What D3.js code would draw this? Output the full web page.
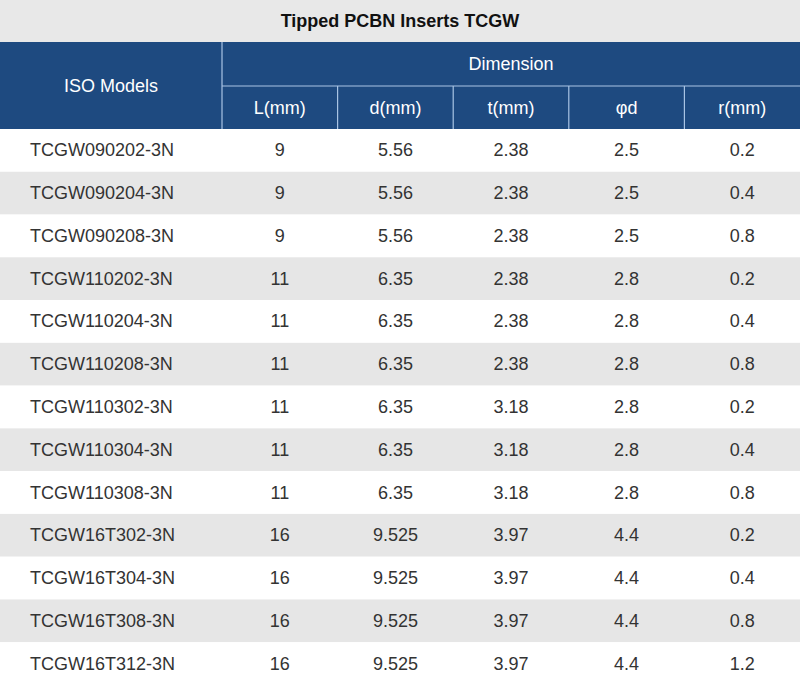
<!DOCTYPE html><html><head><meta charset="utf-8"><script src="https://cdn.jsdelivr.net/npm/d3@7"></script>
<style>body{margin:0;background:#fff}</style></head><body><svg id="c" width="800" height="685"></svg>
<script>
const title="Tipped PCBN Inserts TCGW";
const groupHeader="Dimension";
const firstHeader="ISO Models";
const columns=["L(mm)","d(mm)","t(mm)","φd","r(mm)"];
const models=["TCGW090202-3N","TCGW090204-3N","TCGW090208-3N","TCGW110202-3N","TCGW110204-3N","TCGW110208-3N","TCGW110302-3N","TCGW110304-3N","TCGW110308-3N","TCGW16T302-3N","TCGW16T304-3N","TCGW16T308-3N","TCGW16T312-3N"];
const L=["9","9","9","11","11","11","11","11","11","16","16","16","16"];
const dv=["5.56","5.56","5.56","6.35","6.35","6.35","6.35","6.35","6.35","9.525","9.525","9.525","9.525"];
const t=["2.38","2.38","2.38","2.38","2.38","2.38","3.18","3.18","3.18","3.97","3.97","3.97","3.97"];
const phi=["2.5","2.5","2.5","2.8","2.8","2.8","2.8","2.8","2.8","4.4","4.4","4.4","4.4"];
const r=["0.2","0.4","0.8","0.2","0.4","0.8","0.2","0.4","0.8","0.2","0.4","0.8","1.2"];
const vals=[L,dv,t,phi,r];
const svg=d3.select("#c"),F="Liberation Sans, Arial, sans-serif";
const W=800,firstW=222,titleH=42,h1=44,h2=43,topY=titleH+h1+h2;
const x=d3.scaleBand().domain(columns).range([firstW,W]);
const y=d3.scaleBand().domain(d3.range(models.length)).range([topY,685]);
svg.append("rect").attr("width",W).attr("height",titleH).attr("fill","#e8e8e8");
svg.append("text").attr("x",W/2).attr("y",titleH/2+6).attr("text-anchor","middle").attr("font-family",F).attr("font-weight","bold").attr("font-size",18).attr("fill","#111").text(title);
svg.append("rect").attr("y",titleH).attr("width",W).attr("height",h1+h2).attr("fill","#1e4a80");
const ln=(x1,y1,x2,y2)=>svg.append("line").attr("x1",x1).attr("y1",y1).attr("x2",x2).attr("y2",y2).attr("stroke","#a9c4e4").attr("stroke-width",1.2);
ln(firstW,titleH,firstW,topY);ln(firstW,titleH+h1,W,titleH+h1);
columns.forEach((c,i)=>{if(i>0)ln(x(c),titleH+h1,x(c),topY);});
const ht=(tx,xx,yy)=>svg.append("text").attr("x",xx).attr("y",yy).attr("text-anchor","middle").attr("font-family",F).attr("font-size",18).attr("fill","#fff").text(tx);
ht(firstHeader,firstW/2,titleH+(h1+h2)/2+6);
ht(groupHeader,(firstW+W)/2,titleH+h1/2+6);
columns.forEach(c=>ht(c,x(c)+x.bandwidth()/2,titleH+h1+h2/2+6));
models.forEach((m,i)=>{
 svg.append("rect").attr("y",y(i)).attr("width",W).attr("height",y.bandwidth()).attr("fill",i%2?"#e6e6e6":"#fff");
 const cy=y(i)+y.bandwidth()/2+6;
 svg.append("text").attr("x",30).attr("y",cy).attr("font-family",F).attr("font-size",18).attr("fill","#333").text(m);
 columns.forEach((c,j)=>svg.append("text").attr("x",x(c)+x.bandwidth()/2).attr("y",cy).attr("text-anchor","middle").attr("font-family",F).attr("font-size",18).attr("fill","#333").text(vals[j][i]));
});
</script></body></html>
